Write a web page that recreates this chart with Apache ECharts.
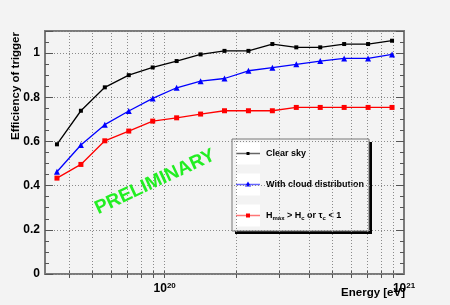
<!DOCTYPE html>
<html><head><meta charset="utf-8">
<script src="https://cdn.jsdelivr.net/npm/echarts@6/dist/echarts.min.js"></script>
<style>html,body{margin:0;padding:0;background:#f3f3f3}#c{width:450px;height:305px}</style>
</head><body><div id="c"></div>
<script>
// Energies in eV (bin centres)
const energy = [3.548e19, 4.467e19, 5.623e19, 7.079e19, 8.913e19, 1.122e20, 1.413e20, 1.778e20,
                2.239e20, 2.818e20, 3.548e20, 4.467e20, 5.623e20, 7.079e20, 8.913e20];
const clearSky = [0.587, 0.739, 0.845, 0.900, 0.935, 0.964, 0.994, 1.010, 1.010, 1.041, 1.026, 1.026, 1.041, 1.041, 1.056];
const withCloud = [0.463, 0.584, 0.676, 0.738, 0.795, 0.843, 0.873, 0.885, 0.920, 0.934, 0.949, 0.964, 0.976, 0.976, 0.994];
const hmaxCut = [0.434, 0.496, 0.603, 0.647, 0.692, 0.707, 0.724, 0.739, 0.739, 0.739, 0.754, 0.754, 0.754, 0.754, 0.754];
const xTickValues = [4e19, 5e19, 6e19, 7e19, 8e19, 9e19, 1e20, 2e20, 3e20, 4e20, 5e20, 6e20, 7e20, 8e20, 9e20];
const xLabelValues = [1e20, 0.99999e21];
const yLabelValues = [0, 0.2, 0.4, 0.6, 0.8, 1];
const seriesNames = ['Clear sky', 'With cloud distribution', 'Hmax > Hc or τc < 1'];

const pair = (ys) => energy.map((e, i) => [e, ys[i]]);
const chart = echarts.init(document.getElementById('c'), null, {renderer: 'canvas'});
const gridCol = '#8a8a8a';
const tickCol = '#555';
const yMinor = (pos) => ({type: 'value', position: pos, min: 0, max: 1.1, interval: 0.05,
  axisLine: {show: false}, splitLine: {show: false},
  axisTick: {show: true, inside: true, length: 4, lineStyle: {color: tickCol, width: 1}},
  axisLabel: {show: false}});
const yMajor = (pos, withGrid) => ({type: 'value', position: pos, min: 0, max: 1.1, interval: 0.2,
  axisLine: {show: false},
  splitLine: {show: withGrid, lineStyle: {color: gridCol, type: [1, 2], width: 1}},
  axisTick: {show: true, inside: true, length: 8, lineStyle: {color: tickCol, width: 1}},
  axisLabel: {show: false}});

const yLab = yMinor('left');
yLab.axisLabel = {show: true, fontFamily: 'Liberation Sans', fontWeight: 'bold', fontSize: 12, color: '#000', margin: 5,
  formatter: (v) => {
    const hit = yLabelValues.find(t => Math.abs(t - v) < 1e-6);
    if (hit === undefined) return '';
    return (hit === 0 || hit === 1) ? String(hit) : hit.toFixed(1);
  }};

const xAx = (pos, labels) => ({type: 'log', logBase: 10, position: pos, min: 3.1623e19, max: 1e21,
  axisLine: {show: false},
  splitLine: {show: false},
  axisTick: {show: true, inside: true, length: 4, customValues: xTickValues, lineStyle: {color: tickCol}},
  axisLabel: labels ? {show: true, customValues: xLabelValues, showMaxLabel: true, showMinLabel: true, margin: 8,
    formatter: (v) => '{b|10}{s|' + Math.round(Math.log10(v)) + '}',
    rich: {b: {fontFamily: 'Liberation Sans', fontWeight: 'bold', fontSize: 12, color: '#000', lineHeight: 14},
           s: {fontFamily: 'Liberation Sans', fontWeight: 'bold', fontSize: 8, color: '#000', lineHeight: 6, verticalAlign: 'top'}}
  } : {show: false}});

const legendY = [153.5, 184.5, 215.5];
const legendCols = ['#666666', '#6666ff', '#ff7777'];
const markCols = ['#000000', '#0000ff', '#ff0000'];
const legendChildren = [
  {type: 'rect', shape: {x: 235, y: 142, width: 137, height: 92}, style: {fill: '#000'}},
  {type: 'rect', shape: {x: 232, y: 139, width: 137, height: 92}, style: {fill: '#f3f3f3', stroke: '#777', lineWidth: 1}}
];
legendY.forEach((cy, i) => {
  legendChildren.push({type: 'rect', shape: {x: 236, y: cy - 11, width: 24, height: 22}, style: {fill: '#fff'}});
  legendChildren.push({type: 'line', shape: {x1: 236, y1: cy, x2: 260, y2: cy}, style: {stroke: legendCols[i], lineWidth: 1.5}});
  if (i === 1) {
    legendChildren.push({type: 'polygon', shape: {points: [[248, cy - 3], [251, cy + 2], [245, cy + 2]]}, style: {fill: markCols[i]}});
  } else {
    const s = i === 0 ? 3 : 4;
    legendChildren.push({type: 'rect', shape: {x: 248 - s / 2, y: cy - s / 2, width: s, height: s}, style: {fill: markCols[i]}});
  }
});
const txtStyle = {fontFamily: 'Liberation Sans', fontWeight: 'bold', fontSize: 9, fill: '#000'};
legendChildren.push({type: 'text', x: 266, y: legendY[0], style: Object.assign({text: seriesNames[0], verticalAlign: 'middle'}, txtStyle)});
legendChildren.push({type: 'text', x: 266, y: legendY[1], style: Object.assign({text: seriesNames[1], verticalAlign: 'middle'}, txtStyle)});
legendChildren.push({type: 'text', x: 266, y: legendY[2], style: {
  text: '{n|H}{sb|max}{n| > H}{sb|c}{n| or τ}{sb|c}{n| < 1}', verticalAlign: 'middle',
  rich: {n: {fontFamily: 'Liberation Sans', fontWeight: 'bold', fontSize: 9, fill: '#000', lineHeight: 12},
         sb: {fontFamily: 'Liberation Sans', fontWeight: 'bold', fontSize: 6, fill: '#000', lineHeight: 5, verticalAlign: 'bottom'}}}});

const mkSeries = (name, ys, color, symbol, size) => ({
  name, type: 'line', data: pair(ys), xAxisIndex: 0, yAxisIndex: 0,
  symbol, symbolSize: size, showSymbol: true,
  lineStyle: {color, width: 1.3}, itemStyle: {color}, animation: false, z: 5
});

const gridSeries = {
  type: 'line', data: [], xAxisIndex: 0, yAxisIndex: 0, silent: true, z: 1,
  markLine: {silent: true, symbol: ['none', 'none'], animation: false, label: {show: false},
    lineStyle: {color: gridCol, type: [1, 2], width: 1},
    data: xTickValues.map(v => ({xAxis: v}))}
};

chart.setOption({
  backgroundColor: '#f3f3f3',
  animation: false,
  grid: {left: 45, right: 46, top: 31, bottom: 31, show: true, borderColor: '#7a7a7a', borderWidth: 2, backgroundColor: 'transparent'},
  xAxis: [xAx('bottom', true), xAx('top', false)],
  yAxis: [yLab, yMajor('left', true), yMinor('right'), yMajor('right', false)],
  series: [
    gridSeries,
    mkSeries(seriesNames[0], clearSky, '#000000', 'rect', 4),
    mkSeries(seriesNames[1], withCloud, '#0000ff', 'triangle', 6),
    mkSeries(seriesNames[2], hmaxCut, '#ff0000', 'rect', 5)
  ],
  graphic: [
    {type: 'text', x: 16, y: 86, rotation: Math.PI / 2, style: {text: 'Efficiency of trigger', align: 'center', verticalAlign: 'middle',
      fontFamily: 'Liberation Sans', fontWeight: 'bold', fontSize: 11.5, fill: '#000'}},
    {type: 'text', x: 405, y: 293, style: {text: 'Energy [eV]', align: 'right', verticalAlign: 'middle',
      fontFamily: 'Liberation Sans', fontWeight: 'bold', fontSize: 11.5, fill: '#000'}},
    {type: 'text', x: 155, y: 182, rotation: 25 * Math.PI / 180, z: 10, style: {text: 'PRELIMINARY', align: 'center', verticalAlign: 'middle',
      fontFamily: 'Liberation Sans', fontWeight: 'bold', fontSize: 19, fill: '#22ee22'}},
    {type: 'group', z: 20, children: legendChildren}
  ]
});
</script></body></html>
